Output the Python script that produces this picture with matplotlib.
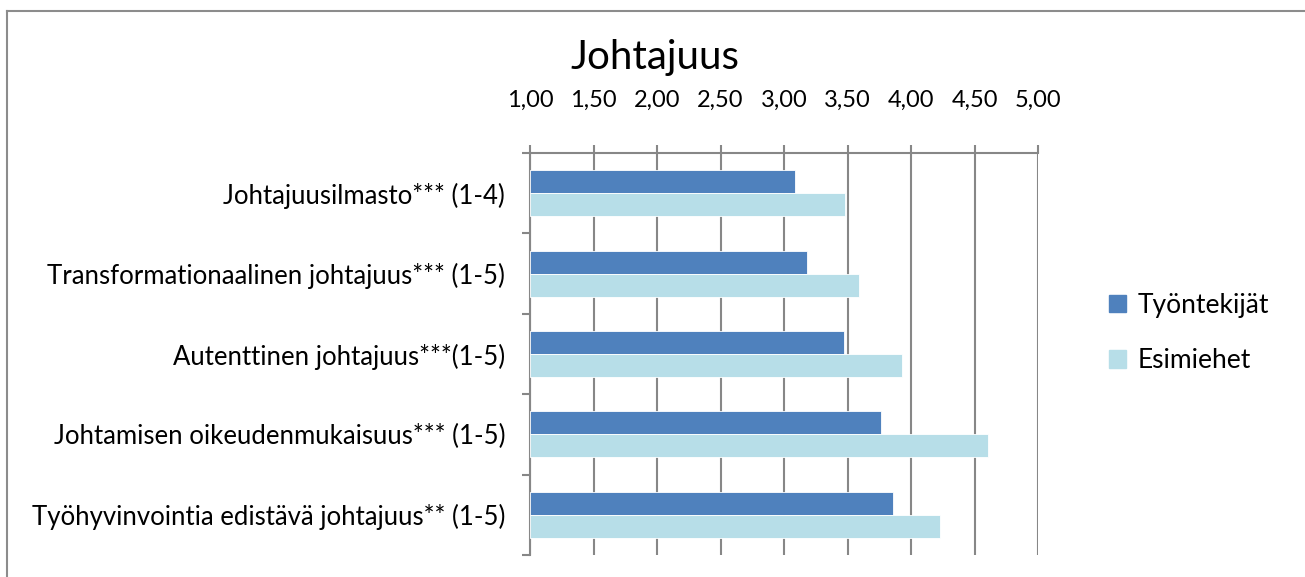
import matplotlib.pyplot as plt
import numpy as np
from matplotlib.lines import Line2D

plt.rcParams['font.family'] = ['Lato', 'DejaVu Sans']

categories = ["Johtajuusilmasto*** (1-4)",
              "Transformationaalinen johtajuus*** (1-5)",
              "Autenttinen johtajuus***(1-5)",
              "Johtamisen oikeudenmukaisuus*** (1-5)",
              "Työhyvinvointia edistävä johtajuus** (1-5)"]
tyontekijat = [3.09, 3.18, 3.47, 3.76, 3.86]
esimiehet = [3.48, 3.59, 3.93, 4.61, 4.23]
xticks = [1.0, 1.5, 2.0, 2.5, 3.0, 3.5, 4.0, 4.5, 5.0]
xtick_labels = ["1,00", "1,50", "2,00", "2,50", "3,00", "3,50", "4,00", "4,50", "5,00"]

dark = "#4F81BD"
light = "#B7DEE8"
gridc = "#878787"

fig = plt.figure(figsize=(13.05, 5.77), dpi=100)
ax = fig.add_axes([530/1305, 1-555/577, 508/1305, 402/577])

y = np.arange(len(categories))
h = 0.285
ax.barh(y - h/2, [v - 1 for v in tyontekijat], left=1, height=h, color=dark,
        edgecolor="white", linewidth=0.6, label="Työntekijät", zorder=3)
ax.barh(y + h/2, [v - 1 for v in esimiehet], left=1, height=h, color=light,
        edgecolor="white", linewidth=0.6, label="Esimiehet", zorder=3)

ax.set_xlim(1, 5)
ax.set_ylim(len(categories) - 0.5, -0.5)
ax.xaxis.tick_top()
ax.set_xticks(xticks)
ax.set_xticklabels(xtick_labels, fontsize=17)
ax.tick_params(axis="x", length=6, width=1.5, color=gridc, pad=24)
ax.grid(axis="x", color=gridc, linewidth=1.5, zorder=0)

ax.set_yticks(y)
ax.set_yticklabels(categories, fontsize=18.5)
ax.tick_params(axis="y", which="major", length=0, pad=18)
ax.set_yticks(np.arange(len(categories) + 1) - 0.5, minor=True)
ax.tick_params(axis="y", which="minor", length=6, width=1.5, color=gridc)

for s in ["right", "bottom"]:
    ax.spines[s].set_visible(False)
ax.spines["top"].set_color(gridc)
ax.spines["top"].set_linewidth(1.5)
ax.spines["left"].set_color(gridc)
ax.spines["left"].set_linewidth(1.5)

fig.text(655/1305, 1-57/577, "Johtajuus", fontsize=29, ha="center", va="center")

handles = [plt.Rectangle((0, 0), 1, 1, color=dark), plt.Rectangle((0, 0), 1, 1, color=light)]
fig.legend(handles, ["Työntekijät", "Esimiehet"], loc="center left",
           bbox_to_anchor=(1085/1305, 1-333/577), frameon=False, fontsize=19,
           handlelength=0.65, handleheight=0.65, handletextpad=0.45, labelspacing=1.15)

# outer chart border
fig.add_artist(Line2D([6.5/1305, 6.5/1305], [0, 1-10.5/577], color="#8c8c8c", linewidth=1.5))
fig.add_artist(Line2D([6.5/1305, 1], [1-10.5/577, 1-10.5/577], color="#8c8c8c", linewidth=1.5))

fig.savefig("out.png", dpi=100)
